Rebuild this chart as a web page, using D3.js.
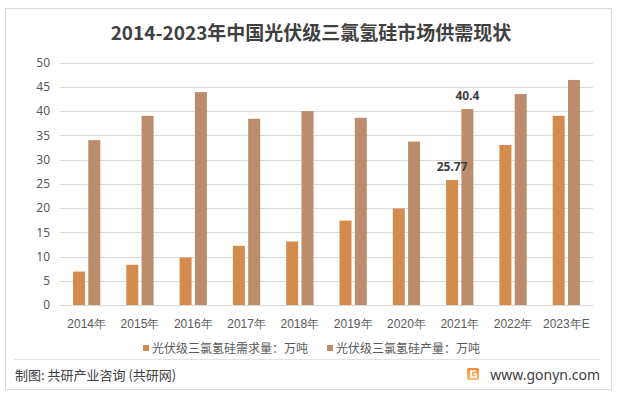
<!DOCTYPE html>
<html>
<head>
<meta charset="utf-8">
<script src="https://cdn.jsdelivr.net/npm/d3@7"></script>
<style>
  body { margin: 0; background: #fff; }
  svg { display: block; font-family: "Noto Sans CJK SC", "Noto Sans", sans-serif; }
</style>
</head>
<body>
<svg id="chart" width="618" height="394"></svg>
<script>
`use strict`;

const years = [`2014年`, `2015年`, `2016年`, `2017年`, `2018年`, `2019年`, `2020年`, `2021年`, `2022年`, `2023年E`];
const demand = [6.9, 8.3, 9.8, 12.2, 13.1, 17.4, 19.9, 25.77, 33.0, 39.0];
const output = [34.0, 39.0, 43.9, 38.4, 40.0, 38.6, 33.7, 40.4, 43.5, 46.4];
const seriesNames = [`光伏级三氯氢硅需求量：万吨`, `光伏级三氯氢硅产量：万吨`];
const seriesColors = [`#d48b4e`, `#bb8d6c`];
const yTicks = [0, 5, 10, 15, 20, 25, 30, 35, 40, 45, 50];
const labelled = [{year: `2021年`, s: 0, text: `25.77`}, {year: `2021年`, s: 1, text: `40.4`}];

const W = 618, H = 394;
const m = {left: 60, right: 25, top: 62.5, bottom: 88.5};

const svg = d3.select(`#chart`);

// frame
svg.append(`rect`)
  .attr(`x`, 5.5).attr(`y`, 8.5)
  .attr(`width`, 606).attr(`height`, 381)
  .attr(`fill`, `#fff`)
  .attr(`stroke`, `#d9d9d9`);

svg.append(`text`)
  .attr(`x`, 311).attr(`y`, 40)
  .attr(`text-anchor`, `middle`)
  .attr(`font-size`, 19)
  .attr(`font-weight`, `bold`)
  .attr(`fill`, `#404040`)
  .text(`2014-2023年中国光伏级三氯氢硅市场供需现状`);

const x = d3.scaleBand()
  .domain(years)
  .range([m.left, W - m.right]);

const xs = d3.scaleBand()
  .domain([0, 1])
  .range([0, x.bandwidth()])
  .paddingInner(0.216)
  .paddingOuter(0.85);

const y = d3.scaleLinear()
  .domain([0, 50])
  .range([H - m.bottom - 0.5, m.top]);

// grid
svg.append(`g`)
  .selectAll(`line`).data(yTicks)
  .enter()
  .append(`line`)
  .attr(`x1`, m.left).attr(`x2`, W - m.right)
  .attr(`y1`, d => Math.round(y(d)) + 0.5)
  .attr(`y2`, d => Math.round(y(d)) + 0.5)
  .attr(`stroke`, `#d9d9d9`)
  .attr(`stroke-width`, 1);

const yAxis = svg.append(`g`)
  .attr(`transform`, `translate(${m.left},0)`)
  .call(d3.axisLeft(y).tickValues(yTicks).tickSize(0).tickPadding(10));

yAxis.select(`.domain`).remove();
yAxis.selectAll(`text`)
  .attr(`font-size`, 12)
  .attr(`fill`, `#595959`)
  .attr(`font-family`, `"Noto Sans", sans-serif`);

// bars
const groups = svg.append(`g`)
  .selectAll(`g`).data(years)
  .enter()
  .append(`g`)
  .attr(`transform`, d => `translate(${x(d)},0)`);

groups.selectAll(`rect`)
  .data((d, i) => [demand[i], output[i]])
  .enter()
  .append(`rect`)
  .attr(`x`, (d, j) => xs(j))
  .attr(`width`, xs.bandwidth())
  .attr(`y`, d => y(d))
  .attr(`height`, d => y(0) - y(d))
  .attr(`fill`, (d, j) => seriesColors[j]);

svg.append(`g`)
  .selectAll(`text`).data(labelled)
  .enter()
  .append(`text`)
  .attr(`x`, d => x(d.year) + xs(d.s) + xs.bandwidth() / 2)
  .attr(`y`, d => y((d.s ? output : demand)[years.indexOf(d.year)]) - 9)
  .attr(`text-anchor`, `middle`)
  .attr(`font-size`, 12)
  .attr(`font-weight`, `bold`)
  .attr(`fill`, `#404040`)
  .attr(`font-family`, `"Noto Sans", sans-serif`)
  .text(d => d.text);

const xAxis = svg.append(`g`)
  .attr(`transform`, `translate(0,${y(0)})`)
  .call(d3.axisBottom(x).tickSize(0).tickPadding(14));

xAxis.select(`.domain`).remove();
xAxis.selectAll(`text`)
  .attr(`font-size`, 12)
  .attr(`fill`, `#595959`);

// legend
const legendX = [143, 327];
const legend = svg.append(`g`)
  .selectAll(`g`).data(seriesNames)
  .enter()
  .append(`g`)
  .attr(`transform`, (d, i) => `translate(${legendX[i]},349)`);

legend.append(`rect`)
  .attr(`x`, 0).attr(`y`, -4)
  .attr(`width`, 6).attr(`height`, 6)
  .attr(`fill`, (d, i) => seriesColors[i]);

legend.append(`text`)
  .attr(`x`, 9).attr(`y`, 4)
  .attr(`font-size`, 12)
  .attr(`fill`, `#595959`)
  .text(d => d);

// footer
svg.append(`line`)
  .attr(`x1`, 14).attr(`x2`, 600)
  .attr(`y1`, 359.5).attr(`y2`, 359.5)
  .attr(`stroke`, `#e3e3e3`);

svg.append(`text`)
  .attr(`x`, 15).attr(`y`, 380)
  .attr(`font-size`, 13)
  .attr(`fill`, `#404040`)
  .text(`制图: 共研产业咨询 (共研网)`);

const grad = svg.append(`defs`).append(`linearGradient`)
  .attr(`id`, `logoGrad`)
  .attr(`x1`, 0).attr(`y1`, 0).attr(`x2`, 0).attr(`y2`, 1);
grad.append(`stop`).attr(`offset`, 0).attr(`stop-color`, `#f08a3c`);
grad.append(`stop`).attr(`offset`, 1).attr(`stop-color`, `#f6c27a`);

const logo = svg.append(`g`).attr(`transform`, `translate(467,368)`);
logo.append(`rect`)
  .attr(`width`, 12).attr(`height`, 12)
  .attr(`rx`, 1.5)
  .attr(`fill`, `url(#logoGrad)`);
logo.append(`path`)
  .attr(`d`, `M9,3 H4 V9 H9 V6 H6.5`)
  .attr(`fill`, `none`)
  .attr(`stroke`, `#fff`)
  .attr(`stroke-width`, 1.6);

svg.append(`text`)
  .attr(`x`, 600).attr(`y`, 380)
  .attr(`text-anchor`, `end`)
  .attr(`font-size`, 14)
  .attr(`fill`, `#404040`)
  .attr(`font-family`, `"Noto Sans", sans-serif`)
  .text(`www.gonyn.com`);
</script>
</body>
</html>
